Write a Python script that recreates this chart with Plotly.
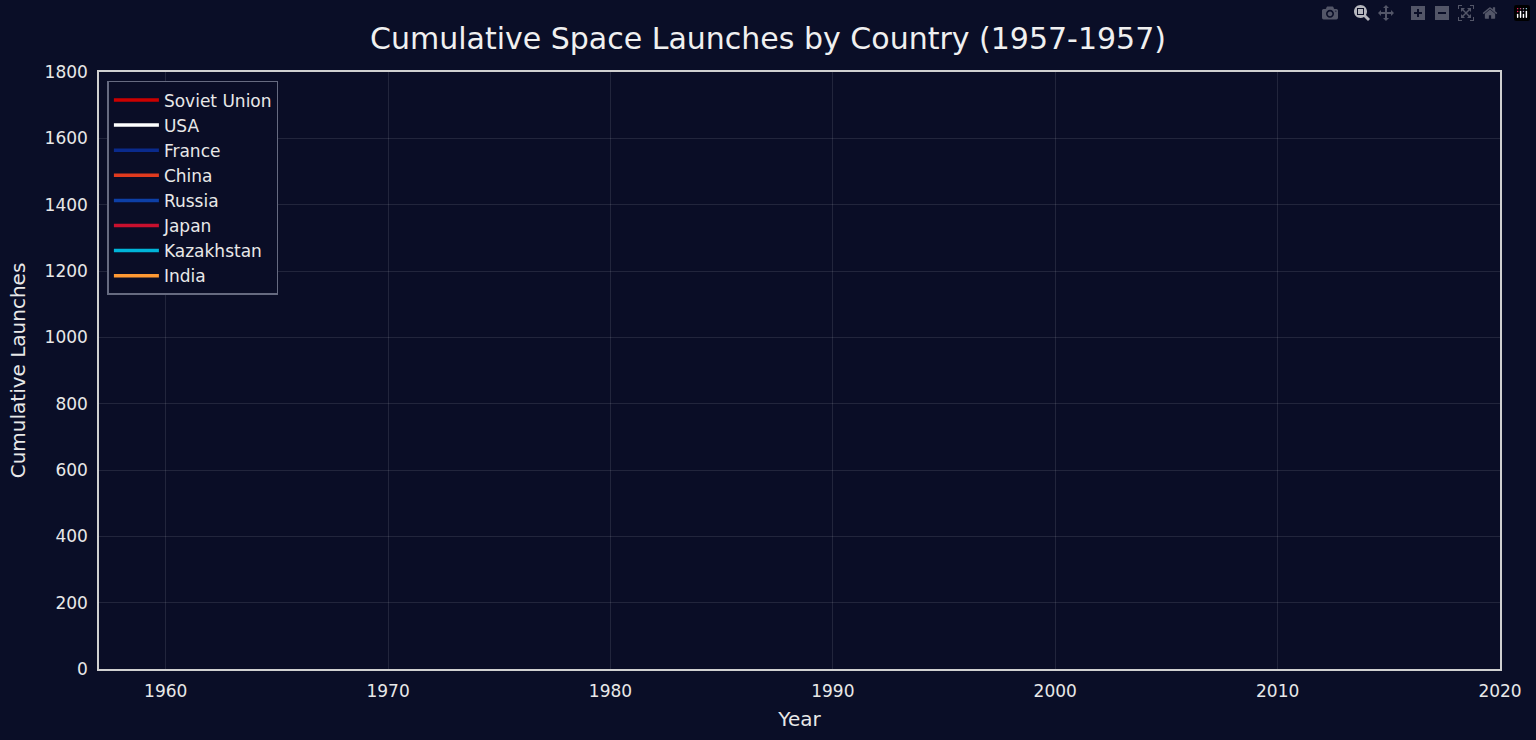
import plotly.graph_objects as go

countries = ["Soviet Union", "USA", "France", "China", "Russia", "Japan", "Kazakhstan", "India"]
colors = ["#cc0000", "#ffffff", "#0a2a8c", "#e03a1e", "#0d3fa6", "#c8102e", "#00b4d8", "#ff9933"]
years = [1957]
values = {"Soviet Union": [2], "USA": [0], "France": [0], "China": [0],
          "Russia": [0], "Japan": [0], "Kazakhstan": [0], "India": [0]}

fig = go.Figure()
for c, col in zip(countries, colors):
    fig.add_trace(go.Scatter(x=years, y=values[c], mode="lines", name=c,
                             line=dict(color=col, width=3.5)))

fig.update_layout(
    width=1536, height=740,
    paper_bgcolor="#0a0e27", plot_bgcolor="#0a0d26",
    font=dict(family="DejaVu Sans", color="#e8e8e8", size=17),
    title=dict(text="Cumulative Space Launches by Country (1957-1957)", x=0.5, xanchor="center",
               y=0.962, font=dict(size=30, color="#f0f0f0")),
    margin=dict(l=99, r=36, t=72, b=71),
    showlegend=True,
    legend=dict(x=0.006, y=0.985, xanchor="left", yanchor="top",
                bgcolor="#0a0d26", bordercolor="#666a80", borderwidth=1.5,
                font=dict(size=17, color="#e8e8e8"), tracegroupgap=0, itemwidth=45),
)
fig.update_xaxes(range=[1957, 2020], tickvals=[1960, 1970, 1980, 1990, 2000, 2010, 2020],
                 title=dict(text="Year", font=dict(size=20), standoff=12), showgrid=True,
                 gridcolor="rgba(255,255,255,0.1)", showline=True, linecolor="#d0d0d0",
                 linewidth=1.5, mirror=True, zeroline=False, ticks="outside", ticklen=6,
                 tickcolor="rgba(0,0,0,0)")
fig.update_yaxes(range=[0, 1800], dtick=200,
                 title=dict(text="Cumulative Launches", font=dict(size=20), standoff=14), showgrid=True,
                 gridcolor="rgba(255,255,255,0.1)", showline=True, linecolor="#d0d0d0",
                 linewidth=1.5, mirror=True, zeroline=False, ticks="outside", ticklen=6,
                 tickcolor="rgba(0,0,0,0)")
fig.write_html("out.html")

with open("out.html", encoding="utf-8") as f:
    html = f.read()
html = html.replace("<head>", "<head><style>html,body{margin:0;padding:0;background:#0a0e27;}</style>", 1)
with open("out.html", "w", encoding="utf-8") as f:
    f.write(html)
